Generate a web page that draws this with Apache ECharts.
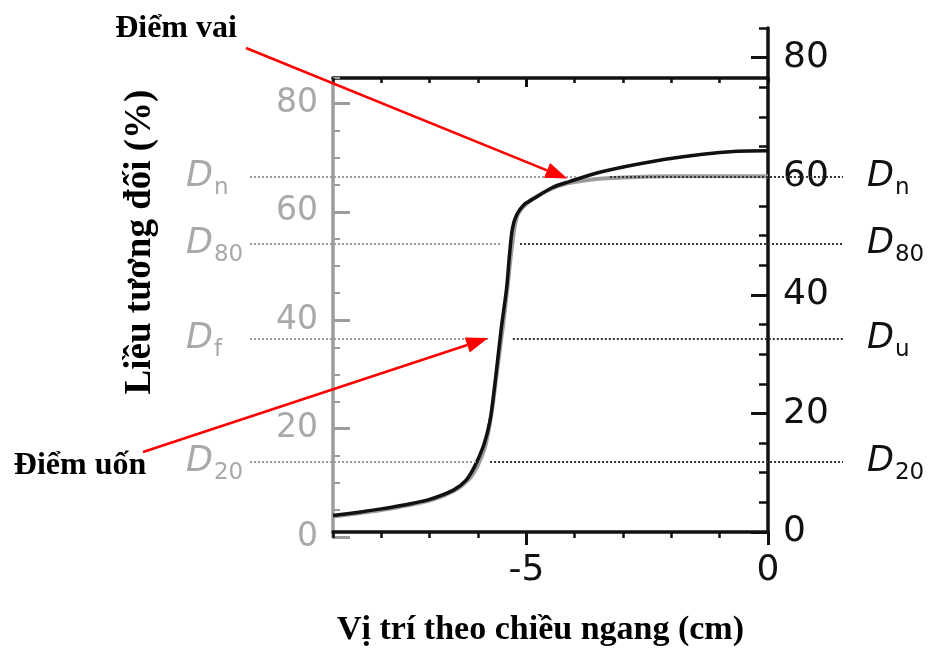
<!DOCTYPE html>
<html><head><meta charset="utf-8">
<script src="https://cdn.jsdelivr.net/npm/echarts@6/dist/echarts.min.js"></script>
<style>html,body{margin:0;padding:0;background:#fff}#c{width:938px;height:652px}</style>
</head><body><div id="c"></div>
<script>
// ---------------- data ----------------
// measured (black) profile: lateral position (cm) -> relative dose (%)
const profileX = [-9.0,-8.5,-8.0,-7.5,-7.0,-6.5,-6.25,-6.08,-5.91,-5.8,-5.73,-5.62,-5.52,-5.41,-5.35,-5.29,-5.2,-5.05,-4.87,-4.46,-4.11,-3.42,-2.39,-1.35,-0.64,0];
const profileY = [2.8,3.3,3.9,4.6,5.5,7.1,8.7,10.9,14.0,17.0,19.8,27.1,34.3,41.0,46.6,51.1,53.5,55.2,56.1,58.1,59.1,60.8,62.5,63.7,64.2,64.3];
// reference (grey) profile
const refX = [-9.0,-8.0,-7.0,-6.5,-6.2,-6.02,-5.85,-5.72,-5.6,-5.48,-5.38,-5.3,-5.18,-4.9,-4.5,-4.15,-3.6,-3.0,-2.0,-1.0,0];
const refY = [2.6,3.7,5.3,6.9,8.8,11.0,14.5,20.0,27.5,35.0,42.0,48.0,53.5,56.0,57.8,58.8,59.5,59.8,60.0,60.0,60.0];
// dose levels (right axis units)
const levelValues = [60, 48.8, 32.9, 12.3];
const levelLeftSub = ['n', '80', 'f', '20'];
const levelRightSub = ['n', '80', 'u', '20'];
const levelGrayEnd = [-3.93, -5.50, -5.75, -6.02];
const levelBlackStart = [-3.27, -5.13, -5.28, -5.75];
// tick labels
const xTickLabels = [-5, 0];
const rightTickLabels = [0, 20, 40, 60, 80];
const leftTickLabels = [0, 20, 40, 60, 80];
// annotation targets (data coords)
const shoulderPoint = [-4.15, 59.6];
const inflectionPoint = [-5.79, 32.7];
const shoulderText = 'Điểm vai';
const inflectionText = 'Điểm uốn';
const xName = 'Vị trí theo chiều ngang (cm)';
const yName = 'Liều tương đối (%)';

// ---------------- layout ----------------
const W = 938, H = 652;
const PL = 333, PR = 768, PB = 535, PT = 28;   // main grid
const LT = 78, LB = 537;                       // grey left-axis grid
const WL = 250, WR = 843;                      // level-line grid
const xMin = -9, xMax = 0, rMax = 85;
const pxPerUnit = (PR - PL) / (xMax - xMin);
const wideMin = xMin - (PL - WL) / pxPerUnit;
const wideMax = xMax + (WR - PR) / pxPerUnit;
const leftMax = (LB - LT) / ((LB - 103.5) / 80);

const SANS = 'DejaVu Sans, Liberation Sans, Arial, sans-serif';
const SERIF = 'Liberation Serif, Times New Roman, serif';
const GREY = '#9c9c9c', GREYT = '#a9a9a9', BLK = '#111';

const zip = (a, b) => a.map((v, i) => [v, b[i]]);

function richFor(color) {
  return {
    d: {fontSize: 35, fontStyle: 'italic', color: color, fontFamily: SANS},
    s: {fontSize: 23, color: color, fontFamily: SANS, padding: [22, 0, 0, 1]}
  };
}
const noZero = {onZero: false};

const chart = echarts.init(document.getElementById('c'), null, {renderer: 'canvas'});
const option = {
  animation: false,
  backgroundColor: '#fff',
  grid: [
    {left: PL, right: W - PR, top: PT, bottom: H - PB},
    {left: PL, right: W - PR, top: LT, bottom: H - LB},
    {left: WL, right: W - WR, top: PT, bottom: H - PB}
  ],
  xAxis: [
    {gridIndex: 0, type: 'value', position: 'bottom', min: xMin, max: xMax, interval: 1,
     axisLine: {onZero: false, lineStyle: {color: BLK, width: 3.5}},
     axisTick: {inside: false, length: 6, lineStyle: {color: BLK, width: 2.5}},
     axisLabel: {show: false}, splitLine: {show: false},
     name: xName, nameLocation: 'middle', nameGap: 81,
     nameTextStyle: {fontFamily: SERIF, fontWeight: 'bold', fontSize: 34, color: '#000', padding: [0, 20, 0, 0]}},
    {gridIndex: 0, type: 'value', position: 'bottom', min: xMin, max: xMax,
     axisLine: {show: false, onZero: false},
     axisTick: {customValues: xTickLabels, inside: false, length: 13, lineStyle: {color: BLK, width: 3}},
     axisLabel: {customValues: xTickLabels, fontSize: 36, fontFamily: SANS, color: BLK, margin: 21},
     splitLine: {show: false}},
    {gridIndex: 1, type: 'value', position: 'top', min: xMin, max: xMax, interval: 1,
     axisLine: {onZero: false, lineStyle: {color: BLK, width: 3.5}},
     axisTick: {inside: true, length: 5, lineStyle: {color: BLK, width: 2.5}},
     axisLabel: {show: false}, splitLine: {show: false}},
    {gridIndex: 1, type: 'value', position: 'top', min: xMin, max: xMax,
     axisLine: {show: false, onZero: false},
     axisTick: {customValues: [-5], inside: true, length: 9, lineStyle: {color: BLK, width: 3}},
     axisLabel: {show: false}, splitLine: {show: false}},
    {gridIndex: 2, type: 'value', min: wideMin, max: wideMax, show: false, axisLine: noZero}
  ],
  yAxis: [
    {gridIndex: 0, type: 'value', position: 'right', min: 0, max: rMax, interval: 5,
     axisLine: {show: true, onZero: false, lineStyle: {color: BLK, width: 3.5}},
     axisTick: {show: true, inside: true, length: 9, lineStyle: {color: BLK, width: 2.5}},
     axisLabel: {customValues: rightTickLabels, fontSize: 36, fontFamily: SANS, color: BLK, margin: 15},
     splitLine: {show: false}},
    {gridIndex: 0, type: 'value', position: 'right', min: 0, max: rMax,
     axisLine: {show: false, onZero: false},
     axisTick: {show: true, customValues: rightTickLabels, inside: true, length: 17, lineStyle: {color: BLK, width: 3}},
     axisLabel: {show: false}, splitLine: {show: false}},
    {gridIndex: 1, type: 'value', position: 'left', min: 0, max: leftMax, interval: 5,
     axisLine: {show: true, onZero: false, lineStyle: {color: GREY, width: 3.5}},
     axisTick: {show: true, inside: true, length: 7, lineStyle: {color: GREY, width: 2}},
     axisLabel: {customValues: leftTickLabels, fontSize: 33, fontFamily: SANS, color: GREYT, margin: 15},
     splitLine: {show: false}},
    {gridIndex: 1, type: 'value', position: 'left', min: 0, max: leftMax,
     axisLine: {show: false, onZero: false},
     axisTick: {show: true, customValues: leftTickLabels, inside: true, length: 17, lineStyle: {color: GREY, width: 3}},
     axisLabel: {show: false}, splitLine: {show: false}},
    {gridIndex: 2, type: 'value', min: 0, max: rMax, show: false, axisLine: noZero}
  ],
  series: [
    {type: 'line', xAxisIndex: 4, yAxisIndex: 4, data: [], z: 2, silent: true,
     markLine: {silent: true, symbol: ['none', 'none'], animation: false,
       lineStyle: {type: 'dotted', color: GREY, width: 2},
       emphasis: {disabled: true},
       label: {show: true, position: 'start', distance: WL - 186, align: 'left',
         formatter: p => '{d|D}{s|' + levelLeftSub[p.dataIndex] + '}', rich: richFor(GREYT)},
       data: levelValues.map((v, i) => [{coord: [wideMin, v]}, {coord: [levelGrayEnd[i], v]}])}},
    {type: 'line', xAxisIndex: 4, yAxisIndex: 4, data: [], z: 2, silent: true,
     markLine: {silent: true, symbol: ['none', 'none'], animation: false,
       lineStyle: {type: 'dotted', color: '#333', width: 2},
       emphasis: {disabled: true},
       label: {show: true, position: 'end', distance: 24,
         formatter: p => '{d|D}{s|' + levelRightSub[p.dataIndex] + '}', rich: richFor(BLK)},
       data: levelValues.map((v, i) => [{coord: [levelBlackStart[i], v]}, {coord: [wideMax, v]}])}},
    {type: 'line', xAxisIndex: 0, yAxisIndex: 0, data: zip(refX, refY), z: 3,
     smooth: 0.3, symbol: 'none', silent: true,
     lineStyle: {color: GREY, width: 4}},
    {type: 'line', xAxisIndex: 0, yAxisIndex: 0, data: zip(profileX, profileY), z: 4,
     smooth: 0.3, symbol: 'none', silent: true,
     lineStyle: {color: BLK, width: 3.5}}
  ]
};
chart.setOption(option);

// ---------------- annotations ----------------
function arrow(tail, tip, color) {
  const dx = tip[0] - tail[0], dy = tip[1] - tail[1];
  const len = Math.hypot(dx, dy), ux = dx / len, uy = dy / len;
  const hl = 22, hw = 8;
  const bx = tip[0] - ux * hl, by = tip[1] - uy * hl;
  return [
    {type: 'line', silent: true, z: 100, shape: {x1: tail[0], y1: tail[1], x2: bx, y2: by},
     style: {stroke: color, lineWidth: 2.5}},
    {type: 'polygon', silent: true, z: 100,
     shape: {points: [tip, [bx - uy * hw, by + ux * hw], [bx + uy * hw, by - ux * hw]]},
     style: {fill: color}}
  ];
}
const tip1 = chart.convertToPixel({xAxisIndex: 0, yAxisIndex: 0}, shoulderPoint);
const tip2 = chart.convertToPixel({xAxisIndex: 0, yAxisIndex: 0}, inflectionPoint);
chart.setOption({
  graphic: [].concat(
    arrow([246, 48], tip1, '#ff0000'),
    arrow([143, 452], tip2, '#ff0000'),
    [
      {type: 'text', x: 176, y: 29, silent: true, z: 100,
       style: {text: shoulderText, font: 'bold 32px ' + SERIF, fill: '#000', align: 'center', verticalAlign: 'middle'}},
      {type: 'text', x: 80, y: 466, silent: true, z: 100,
       style: {text: inflectionText, font: 'bold 32px ' + SERIF, fill: '#000', align: 'center', verticalAlign: 'middle'}},
      {type: 'text', x: 140, y: 242, rotation: Math.PI / 2, silent: true, z: 100,
       style: {text: yName, font: 'bold 37px ' + SERIF, fill: '#000', align: 'center', verticalAlign: 'middle'}}
    ]
  )
});
</script></body></html>
